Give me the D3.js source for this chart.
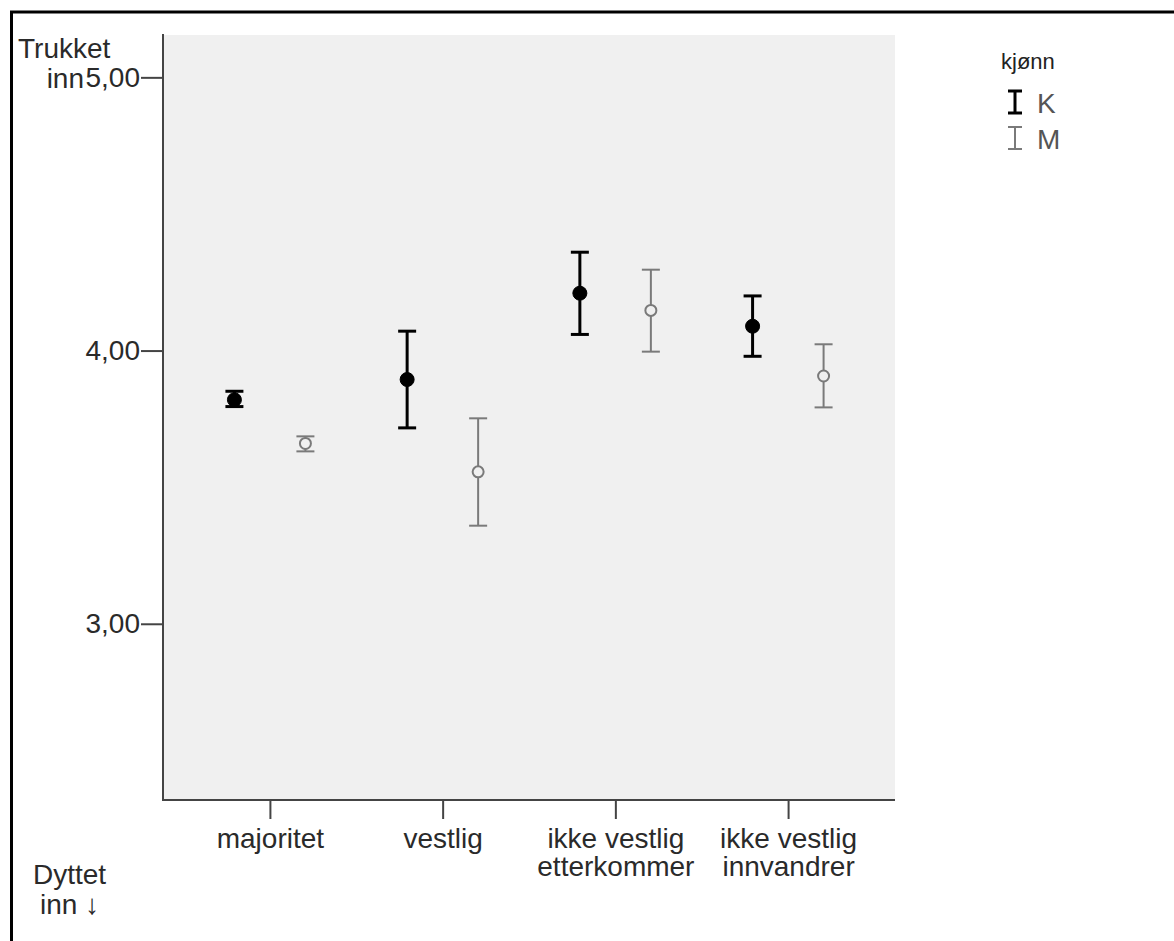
<!DOCTYPE html>
<html>
<head>
<meta charset="utf-8">
<script src="https://cdn.jsdelivr.net/npm/d3@7"></script>
<style>
  html, body { margin: 0; padding: 0; background: #fff; }
  svg { display: block; font-family: "Liberation Sans", Arial, sans-serif; }
</style>
</head>
<body>
<svg id="chart" width="1174" height="941"></svg>
<script>
// ---- data ----
const categories = ["majoritet", "vestlig", "ikke vestlig etterkommer", "ikke vestlig innvandrer"];
const categoryLines = [["majoritet"], ["vestlig"], ["ikke vestlig", "etterkommer"], ["ikke vestlig", "innvandrer"]];
const groups = ["K", "M"];
const kMean = [3.82, 3.894, 4.21, 4.089];
const kLow  = [3.795, 3.717, 4.059, 3.979];
const kHigh = [3.851, 4.071, 4.36, 4.20];
const mMean = [3.66, 3.556, 4.147, 3.907];
const mLow  = [3.631, 3.359, 3.996, 3.792];
const mHigh = [3.686, 3.752, 4.296, 4.023];
const yTicks = [3, 4, 5];
const yTickLabels = ["3,00", "4,00", "5,00"];
const legendTitle = "kjønn";

// ---- layout ----
const svg = d3.select("#chart");
const plot = { left: 163, top: 35, right: 895, bottom: 800 };

// outer frame (left & top visible)
svg.append("line").attr("x1", 11.5).attr("y1", 12).attr("x2", 11.5).attr("y2", 941)
  .attr("stroke", "#000").attr("stroke-width", 3);
svg.append("line").attr("x1", 10).attr("y1", 12).attr("x2", 1174).attr("y2", 12)
  .attr("stroke", "#000").attr("stroke-width", 3);

const y = d3.scaleLinear().domain([2.355, 5.155]).range([plot.bottom, plot.top]);
const x = d3.scalePoint().domain(categories).range([plot.left, plot.right]).padding(0.619);
const dodge = d3.scaleBand().domain(groups).range([-71, 71]);

// plot background
svg.append("rect")
  .attr("x", plot.left).attr("y", plot.top)
  .attr("width", plot.right - plot.left).attr("height", plot.bottom - plot.top)
  .attr("fill", "#f0f0f0").attr("stroke", "none");

// y axis
const yAxis = svg.append("g").attr("transform", `translate(${plot.left},0)`)
  .call(d3.axisLeft(y).tickValues(yTicks).tickSize(22).tickPadding(1)
    .tickFormat((d, i) => yTickLabels[i]));
yAxis.select(".domain").remove();
yAxis.selectAll(".tick line").attr("stroke", "#444").attr("stroke-width", 2);
yAxis.selectAll(".tick text").attr("font-size", 28).attr("fill", "#2a2a2a")
  .attr("font-family", "'Liberation Sans', Arial, sans-serif");

// x axis
const xAxis = svg.append("g").attr("transform", `translate(0,${plot.bottom})`)
  .call(d3.axisBottom(x).tickSize(19).tickFormat(""));
xAxis.select(".domain").remove();
xAxis.selectAll(".tick line").attr("stroke", "#444").attr("stroke-width", 2);
xAxis.selectAll(".tick").each(function(d, i) {
  const t = d3.select(this).append("text")
    .attr("text-anchor", "middle").attr("font-size", 28).attr("fill", "#2a2a2a");
  categoryLines[i].forEach((ln, j) => {
    t.append("tspan").attr("x", 0).attr("y", 48 + j * 28).text(ln);
  });
});

// plot frame (left and bottom axis lines)
svg.append("line").attr("x1", plot.left).attr("y1", plot.top - 1).attr("x2", plot.left).attr("y2", plot.bottom + 1)
  .attr("stroke", "#444").attr("stroke-width", 2);
svg.append("line").attr("x1", plot.left - 1).attr("y1", plot.bottom).attr("x2", plot.right).attr("y2", plot.bottom)
  .attr("stroke", "#444").attr("stroke-width", 2);

// error bars
const series = [
  { g: "K", mean: kMean, low: kLow, high: kHigh, color: "#000", sw: 3, r: 7, filled: true },
  { g: "M", mean: mMean, low: mLow, high: mHigh, color: "#7a7a7a", sw: 2, r: 6, filled: false }
];
series.forEach(s => {
  const gg = svg.append("g");
  categories.forEach((c, i) => {
    const cx = x(c) + dodge(s.g) + dodge.bandwidth() / 2;
    gg.append("line").attr("x1", cx).attr("x2", cx)
      .attr("y1", y(s.low[i])).attr("y2", y(s.high[i]))
      .attr("stroke", s.color).attr("stroke-width", s.sw);
    [s.low[i], s.high[i]].forEach(v => {
      gg.append("line").attr("x1", cx - 9).attr("x2", cx + 9)
        .attr("y1", y(v)).attr("y2", y(v))
        .attr("stroke", s.color).attr("stroke-width", s.sw);
    });
    gg.append("circle").attr("cx", cx).attr("cy", y(s.mean[i])).attr("r", s.filled ? s.r : s.r - 0.5)
      .attr("fill", s.filled ? s.color : "#f0f0f0")
      .attr("stroke", s.color).attr("stroke-width", s.filled ? 1 : 2);
  });
});

// y axis direction labels
const lab = svg.append("g").attr("font-size", 28).attr("fill", "#2a2a2a");
lab.append("text").attr("x", 18).attr("y", 58).text("Trukket");
lab.append("text").attr("x", 84).attr("y", 88).attr("text-anchor", "end").text("inn");
lab.append("text").attr("x", 33).attr("y", 884).text("Dyttet");
lab.append("text").attr("x", 40).attr("y", 914).text("inn \u2193");

// legend
const leg = svg.append("g");
leg.append("text").attr("x", 1001).attr("y", 69).attr("font-size", 22).attr("fill", "#222").text(legendTitle);
series.forEach((s, i) => {
  const yTop = 91 + i * 36, yBot = 113 + i * 36, cx = 1015;
  leg.append("line").attr("x1", cx).attr("x2", cx).attr("y1", yTop).attr("y2", yBot)
    .attr("stroke", s.color).attr("stroke-width", s.sw);
  [yTop, yBot].forEach(v => leg.append("line").attr("x1", cx - 7).attr("x2", cx + 7)
    .attr("y1", v).attr("y2", v).attr("stroke", s.color).attr("stroke-width", s.sw));
  leg.append("text").attr("x", 1037).attr("y", yBot).attr("font-size", 28).attr("fill", "#555").text(s.g);
});
</script>
</body>
</html>
